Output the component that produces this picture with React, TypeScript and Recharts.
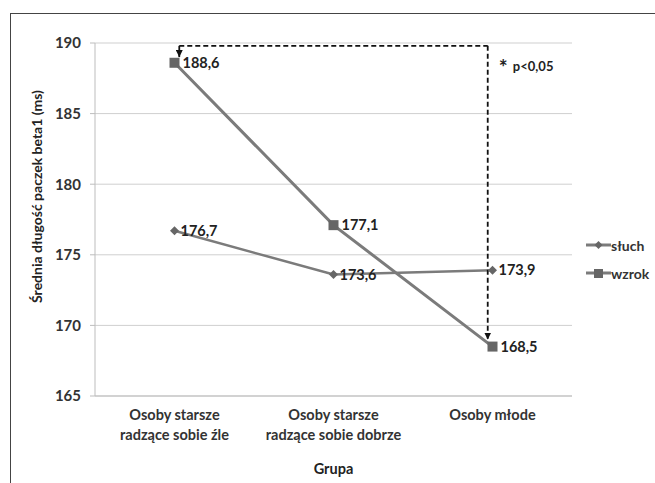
import React from "react";
import {
  LineChart,
  Line,
  XAxis,
  YAxis,
  CartesianGrid,
  Legend,
  LabelList,
  ReferenceLine,
  ReferenceDot,
} from "recharts";

const groups = [
  ["Osoby starsze", "radzące sobie źle"],
  ["Osoby starsze", "radzące sobie dobrze"],
  ["Osoby młode"],
];
const sluch = [176.7, 173.6, 173.9];
const wzrok = [188.6, 177.1, 168.5];
const yTicks = [165, 170, 175, 180, 185, 190];

// annotation: bracket from first to last wzrok value
const bracketLevel = 189.8;
const bracketFrom = 0.03;
const bracketTo = 1.97;
const arrowStop = [189.0, 169.0];

const data = groups.map((g, i) => ({ idx: i, sluch: sluch[i], wzrok: wzrok[i] }));

const FONT = "Lato, 'Open Sans', sans-serif";
const LINE = "#7b7b7b";
const MARK = "#666666";

const fmt = (v: any) => String(v).replace(".", ",");

const Square = (props: any) => {
  const { cx, cy, index } = props;
  if (cx == null || cy == null) return null;
  return <rect key={index} x={cx - 5} y={cy - 5} width={10} height={10} fill={MARK} />;
};

const Diamond = (props: any) => {
  const { cx, cy, index } = props;
  if (cx == null || cy == null) return null;
  return (
    <polygon
      key={index}
      points={`${cx},${cy - 4.5} ${cx + 4.5},${cy} ${cx},${cy + 4.5} ${cx - 4.5},${cy}`}
      fill={MARK}
    />
  );
};

const GroupTick = (props: any) => {
  const { x, y, payload } = props;
  const lines = groups[payload.value] || [];
  return (
    <text x={x} y={y} textAnchor="middle" fill="#333" fontSize={14.5} fontWeight={700} fontFamily={FONT}>
      {lines.map((l, i) => (
        <tspan key={i} x={x} dy={i === 0 ? 16 : 20}>
          {l}
        </tspan>
      ))}
    </text>
  );
};

const YTitle = (props: any) => {
  const { viewBox } = props;
  if (!viewBox) return null;
  const x = viewBox.x + 32;
  const y = viewBox.y + viewBox.height / 2 - 23;
  return (
    <text
      x={x}
      y={y}
      transform={`rotate(-90, ${x}, ${y})`}
      textAnchor="middle"
      fill="#222"
      fontSize={14}
      fontWeight={700}
      fontFamily={FONT}
    >
      Średnia długość paczek beta1 (ms)
    </text>
  );
};

const LegendBox = () => (
  <div style={{ fontFamily: FONT, fontWeight: 700, fontSize: 14, color: "#333" }}>
    {[
      { name: "słuch", shape: "diamond" },
      { name: "wzrok", shape: "square" },
    ].map((s) => (
      <div key={s.name} style={{ display: "flex", alignItems: "center", height: 28 }}>
        <svg width={25} height={12}>
          <line x1={0} y1={6} x2={25} y2={6} stroke={LINE} strokeWidth={3} />
          {s.shape === "square" ? (
            <rect x={8} y={2} width={9} height={9} fill={MARK} />
          ) : (
            <polygon points="12.5,2 16.5,6 12.5,10 8.5,6" fill={MARK} />
          )}
        </svg>
        <span>{s.name}</span>
      </div>
    ))}
  </div>
);

const Sig = (props: any) => {
  const { viewBox } = props;
  if (!viewBox) return null;
  const { x, y } = viewBox;
  return (
    <g fontFamily={FONT} fontWeight={700} fill="#222">
      <text x={x} y={y + 4} fontSize={21}>
        *
      </text>
      <text x={x + 14} y={y} fontSize={13}>
        p&lt;0,05
      </text>
    </g>
  );
};

export default function App() {
  return (
    <div style={{ position: "relative", width: 655, height: 483, overflow: "hidden", background: "#fff" }}>
      <style>{`body{margin:0;overflow:hidden}`}</style>
      <svg width={0} height={0} style={{ position: "absolute" }}>
        <defs>
          <marker
            id="arrowHead"
            viewBox="0 0 10 10"
            refX={10}
            refY={5}
            markerWidth={7}
            markerHeight={7}
            markerUnits="userSpaceOnUse"
            orient="auto"
          >
            <path d="M0,0 L10,5 L0,10 z" fill="#111" />
          </marker>
        </defs>
      </svg>
      <div
        style={{
          position: "absolute",
          left: 10,
          top: 13,
          width: 700,
          height: 520,
          borderTop: "1.5px solid #444",
          borderLeft: "1.5px solid #444",
        }}
      />
      <div style={{ position: "absolute", left: 0, top: 0 }}>
        <LineChart width={655} height={483} data={data} margin={{ top: 43, right: 83, bottom: 0, left: 10 }}>
          <CartesianGrid vertical={false} stroke="#cfcfcf" />
          <XAxis
            dataKey="idx"
            type="number"
            domain={[-0.5, 2.5]}
            ticks={[0, 1, 2]}
            tick={<GroupTick />}
            tickLine={false}
            axisLine={{ stroke: "#bdbdbd" }}
            interval={0}
            height={87}
            label={{
              value: "Grupa",
              position: "insideBottom",
              offset: 9,
              fill: "#222",
              fontSize: 14.5,
              fontWeight: 700,
              fontFamily: FONT,
            }}
          />
          <YAxis
            type="number"
            domain={[165, 190]}
            ticks={yTicks}
            width={85}
            tickSize={5}
            tickMargin={9}
            tickLine={{ stroke: "#bdbdbd" }}
            axisLine={{ stroke: "#bdbdbd" }}
            tick={{ fill: "#333", fontSize: 15, fontWeight: 700, fontFamily: FONT }}
            label={<YTitle />}
          />
          <Legend
            layout="vertical"
            align="center"
            verticalAlign="middle"
            content={<LegendBox />}
            wrapperStyle={{ left: 586, top: 231, width: 70 }}
          />
          <Line
            dataKey="sluch"
            name="słuch"
            stroke={LINE}
            strokeWidth={2.5}
            dot={<Diamond />}
            activeDot={false}
            isAnimationActive={false}
          >
            <LabelList
              dataKey="sluch"
              position="right"
              offset={6}
              formatter={fmt}
              fill="#222"
              fontSize={14.5}
              fontWeight={700}
              fontFamily={FONT}
            />
          </Line>
          <Line
            dataKey="wzrok"
            name="wzrok"
            stroke={LINE}
            strokeWidth={3}
            dot={<Square />}
            activeDot={false}
            isAnimationActive={false}
          >
            <LabelList
              dataKey="wzrok"
              position="right"
              offset={8}
              formatter={fmt}
              fill="#222"
              fontSize={14.5}
              fontWeight={700}
              fontFamily={FONT}
            />
          </Line>
          <ReferenceLine
            segment={[
              { x: bracketFrom, y: bracketLevel },
              { x: bracketFrom, y: arrowStop[0] },
            ]}
            stroke="#111"
            strokeWidth={1.8}
            markerEnd="url(#arrowHead)"
          />
          <ReferenceLine
            segment={[
              { x: bracketFrom, y: bracketLevel },
              { x: bracketTo, y: bracketLevel },
            ]}
            stroke="#111"
            strokeWidth={1.8}
            strokeDasharray="5 3"
          />
          <ReferenceLine
            segment={[
              { x: bracketTo, y: bracketLevel },
              { x: bracketTo, y: arrowStop[1] },
            ]}
            stroke="#111"
            strokeWidth={1.8}
            strokeDasharray="5 3"
            markerEnd="url(#arrowHead)"
          />
          <ReferenceDot x={2.04} y={188.0} r={0} fill="none" stroke="none" label={<Sig />} />
        </LineChart>
      </div>
    </div>
  );
}
